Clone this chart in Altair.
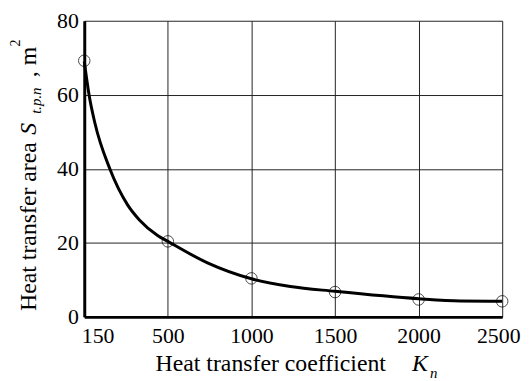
import altair as alt
import pandas as pd

# measured points (open circles)
k_points = [150, 500, 1000, 1500, 2000, 2500]
s_points = [69.2, 20.4, 10.4, 6.7, 4.7, 4.2]

# smooth curve
curve_k = [150, 170, 194, 257, 332, 381, 457, 500, 737, 1000, 1233, 1500, 2000, 2250, 2500]
curve_s = [69.0, 60.0, 52.5, 40.0, 30.2, 26.2, 22.0, 20.4, 14.6, 10.3, 8.2, 6.9, 4.9, 4.3, 4.2]

x_ticks = [150, 500, 1000, 1500, 2000, 2500]
y_ticks = [0, 20, 40, 60, 80]

W, H = 422, 299
FONT = "Liberation Serif"

pts = pd.DataFrame({"K": k_points, "S": s_points})
crv = pd.DataFrame({"K": curve_k, "S": curve_s})

xscale = alt.Scale(domain=[150, 500, 2500], range=[0, W / 5, W], nice=False, zero=False)
yscale = alt.Scale(domain=[0, 80], nice=False, zero=True)

xaxis = alt.Axis(
    values=x_ticks, title=None, grid=True, gridColor="#222222", gridWidth=1,
    ticks=False, domainColor="black", domainWidth=3, format="d",
    labelFont=FONT, labelFontSize=22, labelColor="black", labelPadding=9,
    labelFlush=False,
    labelAlign=alt.expr("datum.value == 150 ? 'left' : datum.value == 2500 ? 'right' : 'center'"),
    labelOffset=alt.expr("datum.value == 150 ? -3 : datum.value == 2500 ? 18 : 0"),
)
yaxis = alt.Axis(
    values=y_ticks, title=None, grid=True, gridColor="#222222", gridWidth=1,
    ticks=False, domainColor="black", domainWidth=3, format="d",
    labelFont=FONT, labelFontSize=22, labelColor="black", labelPadding=6,
    labelFlush=False, labelBaseline="middle",
)

line = alt.Chart(crv).mark_line(color="black", strokeWidth=3, interpolate="monotone").encode(
    x=alt.X("K:Q", scale=xscale, axis=xaxis),
    y=alt.Y("S:Q", scale=yscale, axis=yaxis),
    order="K:Q",
)
points = alt.Chart(pts).mark_point(shape="circle", filled=False, color="black", size=135, strokeWidth=1).encode(
    x=alt.X("K:Q", scale=xscale, axis=xaxis),
    y=alt.Y("S:Q", scale=yscale, axis=yaxis),
)


def txt(t, x, y, size, italic=False, angle=0, font=FONT):
    return alt.Chart(alt.Data(values=[{"a": 1}])).mark_text(
        text=t, font=font, fontSize=size, fontStyle="italic" if italic else "normal",
        angle=angle, align="left", baseline="alphabetic", color="black",
    ).encode(x=alt.value(x), y=alt.value(y))


titles = [
    # x title
    txt("Heat transfer coefficient", 72, 354, 24),
    txt("K", 331, 354, 24, italic=True),
    txt("n", 349, 361, 15, italic=True),
    # y title (rotated)
    txt("Heat transfer area", -49, 293, 24, angle=270),
    txt("S", -49, 115, 24, italic=True, angle=270),
    txt("t.p.n", -44, 94, 15, italic=True, angle=270),
    txt(", m", -49, 57, 24, angle=270),
    txt("2", -65, 26, 14, angle=270),
]

chart = alt.layer(line, points, *titles).properties(
    width=W, height=H,
    autosize=alt.AutoSizeParams(type="none"),
    padding={"left": 77, "top": 11, "right": 20, "bottom": 75},
).configure_view(stroke=None)

chart.save("out.html", embed_options={"renderer": "svg", "actions": False})
